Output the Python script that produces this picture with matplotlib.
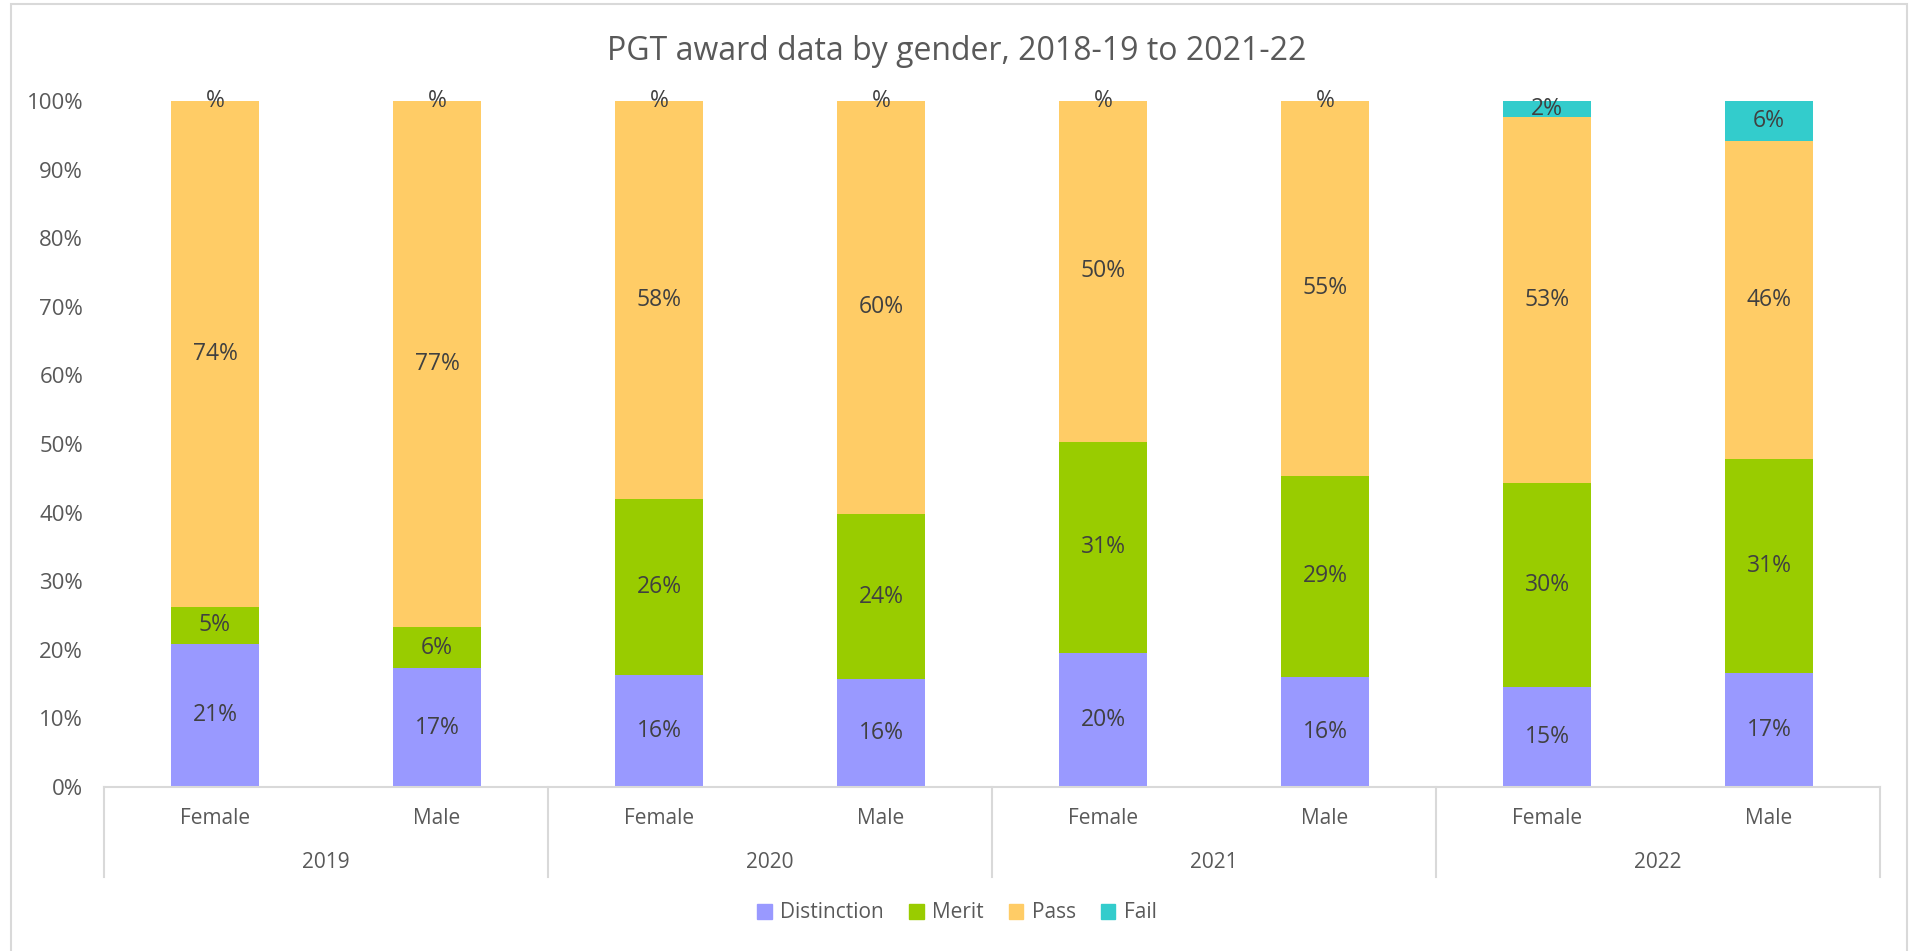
import matplotlib
matplotlib.use("Agg")
import matplotlib.pyplot as plt
from matplotlib.patches import Patch, Rectangle
import numpy as np

# PGT award outcomes (% of students) by year and gender
years = ["2019", "2020", "2021", "2022"]
genders = ["Female", "Male"]
distinction = [20.9, 17.3, 16.3, 15.7, 19.6, 16.1, 14.6, 16.6]
merit = [5.4, 6.0, 25.7, 24.1, 30.7, 29.3, 29.7, 31.2]
pass_ = [73.7, 76.7, 58.0, 60.2, 49.7, 54.6, 53.3, 46.4]
fail = [0.0, 0.0, 0.0, 0.0, 0.0, 0.0, 2.4, 5.8]

series = ["Distinction", "Merit", "Pass", "Fail"]
colors = ["#9999FF", "#99CC00", "#FFCC66", "#33CCCC"]

plt.rcParams['font.family'] = ['Open Sans', 'DejaVu Sans']

W, H = 1914, 951
fig = plt.figure(figsize=(W / 100, H / 100), dpi=100)

# chart border
fig.patches.append(Rectangle((11 / W, -0.05), (1907 - 11) / W, 1.05 - 4 / H,
                             transform=fig.transFigure, fill=False,
                             edgecolor="#d9d9d9", linewidth=1.5))

left, right, top, bottom = 104, 1880, 101, 787
ax = fig.add_axes([left / W, 1 - bottom / H, (right - left) / W, (bottom - top) / H])

x = np.arange(len(distinction))
base = np.zeros(len(x))
for name, vals, c in zip(series, [distinction, merit, pass_, fail], colors):
    vals = np.array(vals)
    ax.bar(x, vals, 0.4, bottom=base, color=c, label=name, linewidth=0)
    for xi, b, v in zip(x, base, vals):
        # "#%" style label: zero shows just the percent sign
        txt = ("%d" % round(v) if round(v) != 0 else "") + "%"
        ax.text(xi, b + v / 2, txt, ha="center", va="center",
                fontsize=16.5, color="#404040")
    base = base + vals

ax.set_xlim(-0.5, len(x) - 0.5)
ax.set_ylim(0, 100)
ax.set_yticks(np.arange(0, 101, 10))
ax.set_yticklabels(["%d%%" % t for t in range(0, 101, 10)])
ax.tick_params(axis="y", length=0, labelsize=16, labelcolor="#595959", pad=15)
ax.set_xticks([])
for s in ["top", "right", "left"]:
    ax.spines[s].set_visible(False)
ax.spines["bottom"].set_color("#d9d9d9")
ax.spines["bottom"].set_linewidth(1.5)

# two-level category axis: gender then year
trans = ax.get_xaxis_transform()
px = 1 / (bottom - top)
for xi, g in zip(x, genders * len(years)):
    ax.text(xi, -(818 - bottom) * px, g, transform=trans, ha="center", va="center",
            fontsize=15, color="#595959")
for i, yr in enumerate(years):
    ax.text(2 * i + 0.5, -(863 - bottom) * px, yr, transform=trans, ha="center",
            va="center", fontsize=15, color="#595959")
for b in np.arange(-0.5, len(x), 2):
    ax.plot([b, b], [0, -(877 - bottom) * px], transform=trans, color="#d9d9d9",
            linewidth=1.5, clip_on=False)

fig.text(0.5, 1 - 51 / H, "PGT award data by gender, 2018-19 to 2021-22",
         ha="center", va="center", fontsize=23, color="#595959")

handles = [Patch(color=c, label=n) for n, c in zip(series, colors)]
fig.legend(handles=handles, loc="center", bbox_to_anchor=(0.5, 1 - 913 / H),
           ncol=4, frameon=False, fontsize=15, handlelength=0.7, handleheight=0.7,
           handletextpad=0.4, columnspacing=1.2, labelcolor="#595959")

fig.savefig("out.png", dpi=100)
